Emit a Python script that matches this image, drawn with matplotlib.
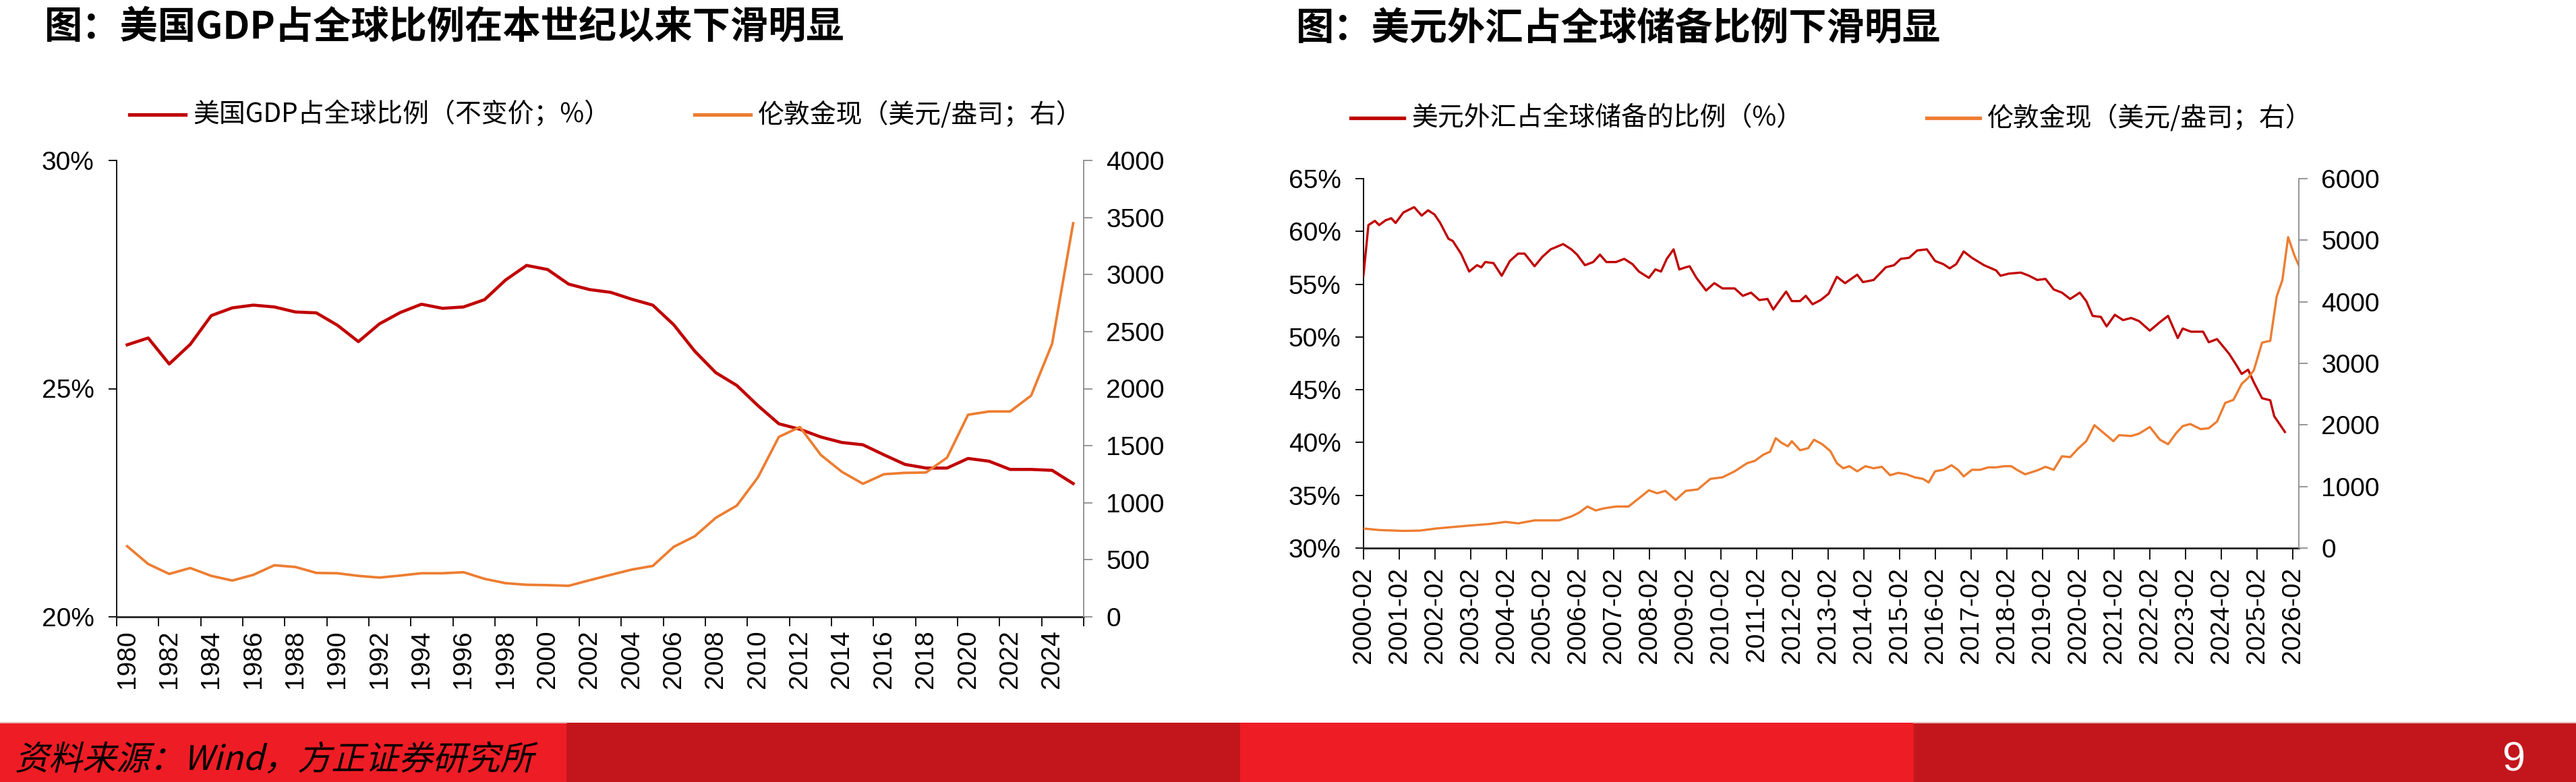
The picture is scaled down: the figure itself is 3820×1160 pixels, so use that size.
import matplotlib
matplotlib.use("Agg")
import matplotlib.pyplot as plt
from matplotlib.lines import Line2D
from matplotlib.patches import Rectangle, PathPatch
from matplotlib.textpath import TextPath
from matplotlib.font_manager import FontProperties
from matplotlib.transforms import Affine2D

# ---- data: left chart (annual) ----
years = list(range(1980, 2026))
us_gdp_share = [25.96, 26.11, 25.54, 25.97, 26.60, 26.77, 26.83, 26.79, 26.68, 26.66,
                26.39, 26.03, 26.42, 26.67, 26.85, 26.76, 26.79, 26.95, 27.38, 27.70,
                27.61, 27.29, 27.17, 27.11, 26.96, 26.83, 26.40, 25.82, 25.35, 25.07,
                24.63, 24.23, 24.11, 23.94, 23.82, 23.77, 23.55, 23.34, 23.26, 23.26,
                23.47, 23.41, 23.23, 23.23, 23.21, 22.92]
gold_annual = [619, 463, 376, 428, 359, 318, 368, 452, 437, 385,
               382, 359, 344, 362, 382, 382, 391, 333, 295, 281,
               278, 272, 321, 368, 414, 446, 614, 706, 868, 975,
               1221, 1577, 1664, 1418, 1271, 1166, 1250, 1262, 1265, 1395,
               1771, 1800, 1800, 1939, 2394, 3450]
left_xlabels = [str(y) for y in range(1980, 2025, 2)]

# ---- data: right chart (decimal year) ----
reserve_t = [2000.08, 2000.22, 2000.40, 2000.52, 2000.70, 2000.86, 2000.98, 2001.20, 2001.50, 2001.71,
             2001.89, 2002.07, 2002.23, 2002.46, 2002.58, 2002.81, 2003.04, 2003.26, 2003.38, 2003.49,
             2003.72, 2003.95, 2004.18, 2004.41, 2004.59, 2004.87, 2005.09, 2005.32, 2005.67, 2005.90,
             2006.06, 2006.28, 2006.51, 2006.70, 2006.88, 2007.15, 2007.38, 2007.61, 2007.79, 2008.07,
             2008.25, 2008.41, 2008.57, 2008.76, 2008.92, 2009.10, 2009.21, 2009.40, 2009.67, 2009.90,
             2010.13, 2010.47, 2010.70, 2010.93, 2011.16, 2011.39, 2011.55, 2011.78, 2011.91, 2012.07,
             2012.30, 2012.46, 2012.65, 2012.88, 2013.10, 2013.33, 2013.56, 2013.90, 2014.06, 2014.36,
             2014.70, 2014.93, 2015.12, 2015.35, 2015.58, 2015.85, 2016.08, 2016.31, 2016.49, 2016.67,
             2016.88, 2017.11, 2017.45, 2017.79, 2017.91, 2018.14, 2018.48, 2018.71, 2018.94, 2019.17,
             2019.40, 2019.63, 2019.86, 2020.13, 2020.31, 2020.49, 2020.72, 2020.88, 2021.11, 2021.34,
             2021.57, 2021.79, 2022.09, 2022.37, 2022.60, 2022.87, 2023.01, 2023.24, 2023.58, 2023.74,
             2023.97, 2024.31, 2024.50, 2024.66, 2024.84, 2025.00, 2025.23, 2025.46, 2025.57, 2025.73,
             2025.87]
usd_reserve_share = [55.8, 60.6, 61.0, 60.6, 61.05, 61.25, 60.8, 61.8, 62.3, 61.5,
                     62.0, 61.6, 60.8, 59.3, 59.1, 57.9, 56.2, 56.8, 56.6, 57.1,
                     57.0, 55.8, 57.2, 57.9, 57.9, 56.7, 57.6, 58.3, 58.8, 58.3,
                     57.8, 56.8, 57.1, 57.8, 57.1, 57.1, 57.4, 56.9, 56.2, 55.6,
                     56.4, 56.2, 57.4, 58.3, 56.4, 56.6, 56.7, 55.6, 54.4, 55.1,
                     54.6, 54.6, 53.9, 54.2, 53.5, 53.6, 52.6, 53.7, 54.3, 53.4,
                     53.4, 53.9, 53.1, 53.5, 54.1, 55.7, 55.1, 55.9, 55.2, 55.4,
                     56.6, 56.8, 57.4, 57.5, 58.2, 58.3, 57.2, 56.9, 56.5, 56.9,
                     58.1, 57.5, 56.8, 56.3, 55.8, 56.0, 56.1, 55.8, 55.4, 55.5,
                     54.5, 54.2, 53.6, 54.2, 53.4, 52.0, 51.9, 51.0, 52.1, 51.6,
                     51.8, 51.5, 50.6, 51.4, 52.0, 49.9, 50.8, 50.5, 50.5, 49.5,
                     49.8, 48.4, 47.4, 46.5, 46.9, 45.7, 44.2, 44.0, 42.5, 41.7,
                     41.0]
gold_t = [2000.08, 2000.52, 2001.20, 2001.66, 2002.12, 2002.58, 2003.08, 2003.61, 2004.06, 2004.41,
          2004.87, 2005.55, 2005.90, 2006.12, 2006.35, 2006.58, 2006.81, 2007.15, 2007.50, 2007.84,
          2008.07, 2008.30, 2008.53, 2008.82, 2009.10, 2009.44, 2009.79, 2010.13, 2010.47, 2010.82,
          2011.04, 2011.27, 2011.46, 2011.62, 2011.78, 2011.96, 2012.07, 2012.30, 2012.53, 2012.69,
          2012.92, 2013.15, 2013.33, 2013.51, 2013.68, 2013.90, 2014.13, 2014.36, 2014.59, 2014.82,
          2015.05, 2015.28, 2015.51, 2015.74, 2015.90, 2016.08, 2016.31, 2016.54, 2016.72, 2016.88,
          2017.11, 2017.34, 2017.57, 2017.79, 2018.02, 2018.21, 2018.37, 2018.60, 2018.94, 2019.17,
          2019.40, 2019.63, 2019.86, 2020.08, 2020.31, 2020.54, 2020.77, 2021.07, 2021.23, 2021.57,
          2021.79, 2022.09, 2022.37, 2022.60, 2022.83, 2023.01, 2023.22, 2023.51, 2023.74, 2023.97,
          2024.20, 2024.43, 2024.66, 2024.84, 2025.00, 2025.23, 2025.46, 2025.64, 2025.80, 2025.96,
          2026.14, 2026.26]
gold_daily = [318, 293, 279, 284, 318, 342, 367, 391, 425, 401,
              450, 450, 513, 577, 675, 611, 645, 675, 675, 831,
              939, 890, 929, 782, 929, 953, 1124, 1149, 1247, 1379,
              1418, 1516, 1565, 1785, 1711, 1653, 1736, 1589, 1623, 1760,
              1687, 1574, 1379, 1296, 1330, 1247, 1330, 1296, 1320, 1183,
              1222, 1198, 1149, 1124, 1066, 1247, 1271, 1345, 1271, 1164,
              1271, 1271, 1311, 1311, 1330, 1330, 1271, 1198, 1262, 1320,
              1271, 1491, 1477, 1614, 1736, 1996, 1883, 1736, 1834, 1820,
              1859, 1967, 1761, 1687, 1869, 1981, 2015, 1932, 1947, 2055,
              2358, 2407, 2666, 2764, 2887, 3337, 3366, 4086, 4355, 5050,
              4746, 4590]
right_xlabels = ["%d-02" % y for y in range(2000, 2027)]

# ---- style ----
W, H = 3820, 1160
RED = "#C00000"
ORANGE = "#ED7D31"
GREY = "#8C8C8C"
CJK = ["Noto Sans CJK SC", "DejaVu Sans"]
NUM = ["Liberation Sans Narrow", "Liberation Sans", "DejaVu Sans"]
NUM_X = ["Liberation Sans", "DejaVu Sans"]


def fx(x):
    return x / W


def fy(y):
    return 1 - y / H


def box(x0, y0, x1, y1):
    return [fx(x0), fy(y1), (x1 - x0) / W, (y1 - y0) / H]


def style_axes(ax, ax2):
    ax.spines["top"].set_visible(False)
    ax2.spines["top"].set_visible(False)
    ax.spines["left"].set_color("black")
    ax.spines["left"].set_linewidth(1.3)
    ax.spines["bottom"].set_color("#222222")
    ax.spines["bottom"].set_linewidth(2.0)
    ax2.spines["right"].set_color(GREY)
    ax2.spines["right"].set_linewidth(1.3)
    for s in ("left", "bottom"):
        ax2.spines[s].set_visible(False)
    ax.spines["right"].set_visible(False)
    ax.tick_params(axis="y", direction="out", length=9, width=1.3, pad=15,
                   labelsize=28, color="black")
    ax2.tick_params(axis="y", direction="out", length=9, width=1.3, pad=15,
                    labelsize=28, color=GREY)
    for lab in ax.get_yticklabels() + ax2.get_yticklabels():
        lab.set_family(NUM)


fig = plt.figure(figsize=(W / 100, H / 100), dpi=100)

# ---------------- left chart ----------------
ax1 = fig.add_axes(box(173, 238, 1607, 915))
ax1b = ax1.twinx()
ax1.plot(years, us_gdp_share, color=RED, lw=3.3, solid_joinstyle="round", zorder=3)
ax1b.plot(years, gold_annual, color=ORANGE, lw=2.7, solid_joinstyle="round")
ax1.set_xlim(1979.5, 2025.5)
ax1.set_ylim(20, 30)
ax1.set_yticks([20, 25, 30], ["20%", "25%", "30%"])
ax1b.set_ylim(0, 4000)
ax1b.set_yticks(range(0, 4001, 500), [str(v) for v in range(0, 4001, 500)])
ax1.set_xticks([1979.5 + 2 * k for k in range(24)], [""] * 24)
ax1.set_xticks(list(range(1980, 2025, 2)), left_xlabels, minor=True)
ax1.tick_params(axis="x", which="major", direction="out", length=10, width=1.3, color="black")
ax1.tick_params(axis="x", which="minor", length=0, pad=14, labelsize=28, labelrotation=90)
for lab in ax1.get_xticklabels(minor=True):
    lab.set_family(NUM_X)
style_axes(ax1, ax1b)

# ---------------- right chart ----------------
ax2 = fig.add_axes(box(2022, 265, 3409, 813))
ax2b = ax2.twinx()
ax2.plot(reserve_t, usd_reserve_share, color=RED, lw=2.4, zorder=3)
ax2b.plot(gold_t, gold_daily, color=ORANGE, lw=2.4)
ax2.set_xlim(2000.083, 2026.26)
ax2.set_ylim(30, 65)
ax2.set_yticks(range(30, 66, 5), ["%d%%" % v for v in range(30, 66, 5)])
ax2b.set_ylim(0, 6000)
ax2b.set_yticks(range(0, 6001, 1000), [str(v) for v in range(0, 6001, 1000)])
ax2.set_xticks([2000 + 1 / 12 + k for k in range(27)], right_xlabels)
ax2.tick_params(axis="x", direction="out", length=12, width=1.3, pad=8,
                labelsize=28, labelrotation=90, color="black")
for lab in ax2.get_xticklabels():
    lab.set_family(NUM_X)
style_axes(ax2, ax2b)

# ---------------- titles ----------------
fig.text(fx(66), fy(40), "图：美国GDP占全球比例在本世纪以来下滑明显", family=CJK,
         fontsize=40.5, fontweight="bold", va="center", ha="left")
fig.text(fx(1922), fy(42), "图：美元外汇占全球储备比例下滑明显", family=CJK,
         fontsize=40.5, fontweight="bold", va="center", ha="left")

# ---------------- legends ----------------
legend_items = [
    (192, 275, 170, RED, "美国GDP占全球比例（不变价；%）"),
    (1030, 1113, 170, ORANGE, "伦敦金现（美元/盎司；右）"),
    (2003, 2082, 175, RED, "美元外汇占全球储备的比例（%）"),
    (2857, 2936, 175, ORANGE, "伦敦金现（美元/盎司；右）"),
]
for x0, x1, yy, col, txt in legend_items:
    fig.add_artist(Line2D([fx(x0), fx(x1)], [fy(yy), fy(yy)], color=col, lw=3.8,
                          transform=fig.transFigure))
    fig.text(fx(x1 + 11), fy(yy), txt, family=CJK, fontsize=28, va="center", ha="left")

# ---------------- footer banner ----------------
seg_edges = [0, 840, 1839, 2838, 3820]
seg_colors = ["#EE1C25", "#C3161C", "#EE1C25", "#C3161C"]
for i, col in enumerate(seg_colors):
    x0, x1 = seg_edges[i], seg_edges[i + 1]
    fig.add_artist(Rectangle((fx(x0), 0), (x1 - x0) / W, (H - 1072) / H,
                             transform=fig.transFigure, color=col, lw=0))
for x0, x1 in [(0, 840), (2838, 3820)]:
    fig.add_artist(Line2D([fx(x0), fx(x1)], [fy(1072), fy(1072)], color="#E6BDBD",
                          lw=1.5, transform=fig.transFigure))

src = TextPath((0, 0), "资料来源：Wind，方正证券研究所", size=50,
               prop=FontProperties(family="Noto Sans CJK SC"))
fig.add_artist(PathPatch(src, transform=Affine2D().skew_deg(14, 0).translate(22, 18),
                         color="black", lw=0))
fig.text(fx(3727), fy(1128), "9", family=NUM, fontsize=44, color="white",
         va="center", ha="center")

fig.savefig("out.png", dpi=100, facecolor="white")
